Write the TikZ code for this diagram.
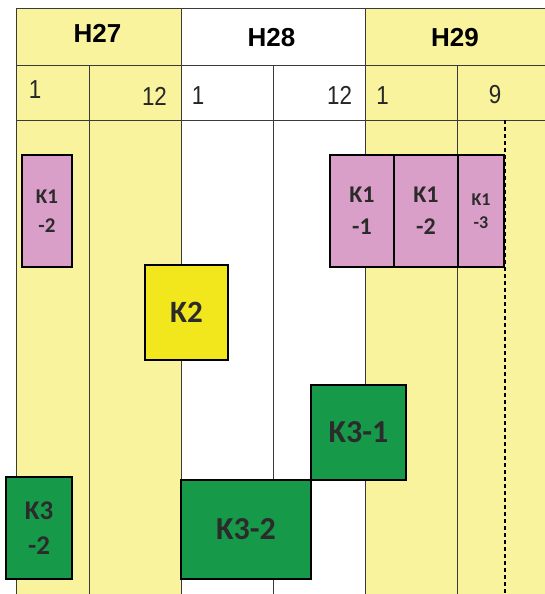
\documentclass[tikz,border=0pt]{standalone}
\usepackage{fontspec}
\setmainfont{Liberation Sans}
\newfontfamily\boxfont{Carlito}
\newfontfamily\numfont[FakeStretch=0.86]{Liberation Sans}
\definecolor{bgyellow}{HTML}{F8F39C}
\definecolor{kpink}{HTML}{DA9FC8}
\definecolor{kyellow}{HTML}{F2E61C}
\definecolor{kgreen}{HTML}{17994A}
\definecolor{ktext}{HTML}{2B2B2B}
\definecolor{gridc}{HTML}{3A3A3A}
\begin{document}
\begin{tikzpicture}[x=1pt,y=-1pt,
  grid/.style={draw=gridc,line width=0.9pt},
  hdr/.style={font=\fontsize{26}{26}\selectfont\bfseries,text=black,inner sep=0pt},
  num/.style={font=\numfont\fontsize{26}{26}\selectfont,text=black!85,inner sep=0pt},
  kbox/.style={draw=black,line width=2pt,inner sep=0pt,align=center,text=ktext},
  kone/.style={kbox,fill=kpink,font=\boxfont\fontsize{24}{32}\selectfont\bfseries},
  kthree/.style={kbox,fill=kgreen,font=\boxfont\fontsize{32}{35}\selectfont\bfseries}]
\useasboundingbox (0,0) rectangle (545,594);
% backgrounds
\fill[bgyellow] (16,8) rectangle (181,594);
\fill[bgyellow] (365,8) rectangle (545,594);
% grid
\draw[grid] (16,8) -- (545,8);
\draw[grid] (16,65) -- (545,65);
\draw[grid] (16,120) -- (545,120);
\draw[grid] (16,8) -- (16,594);
\draw[grid] (181,8) -- (181,594);
\draw[grid] (365,8) -- (365,594);
\draw[grid] (89,65) -- (89,594);
\draw[grid] (273,65) -- (273,594);
\draw[grid] (457,65) -- (457,594);
\draw[black,line width=1.2pt,dash pattern=on 4pt off 3pt] (505,120) -- (505,594);
% headers
\node[hdr] (h27) at (97.5,33.5) {H27};
\node[hdr] (h28) at (271.5,38) {H28};
\node[hdr] (h29) at (455,37.5) {H29};
\node[num] (m1) at (35,90) {1};
\node[num] (m2) at (154.5,96) {12};
\node[num] (m3) at (198,96) {1};
\node[num] (m4) at (339.5,95.5) {12};
\node[num] (m5) at (382.5,95.5) {1};
\node[num] (m6) at (495,95) {9};
% boxes
\node[kone,minimum width=50pt,minimum height=112pt,font=\boxfont\fontsize{21}{29}\selectfont\bfseries] (k12a) at (47,211) {K1\\-2};
\node[kone,minimum width=64pt,minimum height=112pt] (k11) at (362,211) {K1\\-1};
\node[kone,minimum width=64pt,minimum height=112pt] (k12) at (426,211) {K1\\-2};
\node[kone,minimum width=46pt,minimum height=112pt,font=\boxfont\fontsize{18}{23}\selectfont\bfseries] (k13) at (481,211) {K1\\-3};
\node[kbox,fill=kyellow,minimum width=83pt,minimum height=95pt,font=\boxfont\fontsize{31}{31}\selectfont\bfseries] (k2) at (186.5,312.5) {K2};
\node[kthree,minimum width=95pt,minimum height=95pt] (k31) at (358.5,432.5) {K3-1};
\node[kthree,minimum width=130pt,minimum height=99pt] (k32) at (246,529.5) {K3-2};
\node[kthree,minimum width=66pt,minimum height=102pt,font=\boxfont\fontsize{27}{35}\selectfont\bfseries] (k32a) at (39,528) {K3\\-2};
\end{tikzpicture}
\end{document}
